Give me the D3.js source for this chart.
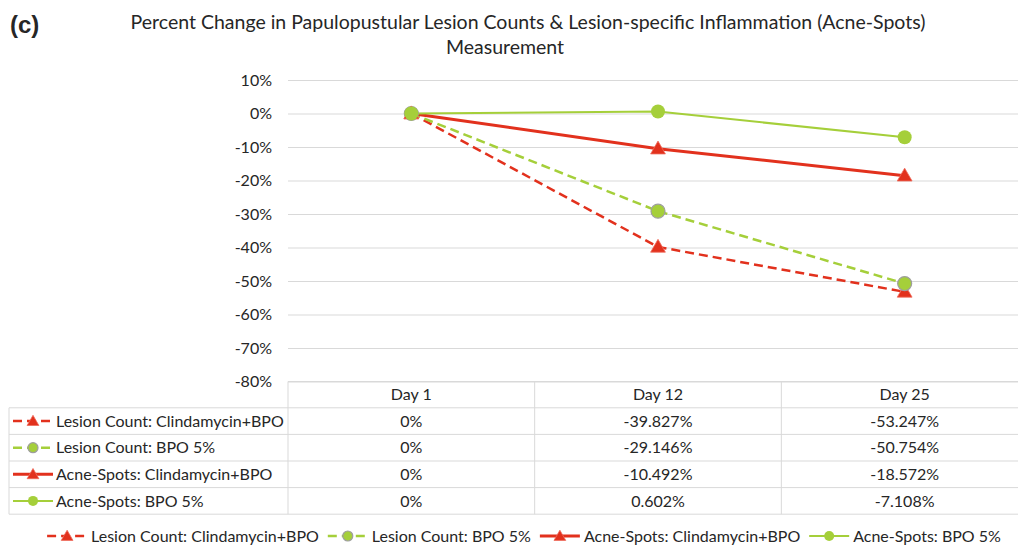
<html>
<head>
  <script src="https://d3js.org/d3.v7.min.js"></script>
  <style>
    body { margin: 0; background: #fff; }
    text { font-family: Lato, "Open Sans", sans-serif; fill: #262626; }
  </style>
</head>
<body>
<div id="chart"></div>
<script>
  // chart data
  var days = ["Day 1", "Day 12", "Day 25"];
  var seriesNames = ["Lesion Count: Clindamycin+BPO", "Lesion Count: BPO 5%",
                     "Acne-Spots: Clindamycin+BPO", "Acne-Spots: BPO 5%"];
  var lesionClinda = [0, -39.827, -53.247];
  var lesionBpo = [0, -29.146, -50.754];
  var spotsClinda = [0, -10.492, -18.572];
  var spotsBpo = [0, 0.602, -7.108];
  var yTicks = [10, 0, -10, -20, -30, -40, -50, -60, -70, -80];

  var red = '#e2311d', green = '#a5cf3a';
  var series = [
    {name: seriesNames[0], values: lesionClinda, color: red, dash: '9,5', width: 2.5, marker: 'tri'},
    {name: seriesNames[1], values: lesionBpo, color: green, dash: '9,5', width: 2.5, marker: 'dot', edge: '#9e9e9e'},
    {name: seriesNames[2], values: spotsClinda, color: red, dash: null, width: 3, marker: 'tri'},
    {name: seriesNames[3], values: spotsBpo, color: green, dash: null, width: 2, marker: 'dot'}
  ];

  var W = 1018, H = 547;
  var svg = d3.select('#chart').append('svg')
              .attr('width', W).attr('height', H);
  svg.append('rect').attr('width', W).attr('height', H).attr('fill', '#fff');

  var x = d3.scaleBand().domain(days).range([288, 1028]);
  var y = d3.scaleLinear().domain([-80, 10]).range([381.5, 80]);
  var fmtPct = function(v) { return String(v).replace('\u2212', '-') + '%'; };
  var fmtCell = function(v) { return v === 0 ? '0%' : v.toFixed(3) + '%'; };

  // gridlines
  svg.append('g')
     .attr('transform', 'translate(288,0)')
     .call(d3.axisLeft(y).tickValues(yTicks).tickSize(-740).tickFormat(''))
     .call(function(g) {
       g.select('.domain').remove();
       g.selectAll('line').attr('stroke', '#d9d9d9').attr('stroke-width', 1);
     });

  // y labels
  svg.append('g')
     .attr('transform', 'translate(272,0)')
     .call(d3.axisLeft(y).tickValues(yTicks).tickSize(0).tickPadding(0).tickFormat(fmtPct))
     .call(function(g) {
       g.select('.domain').remove();
       g.selectAll('text').style('font-size', '16px').style('font-family', 'Lato').attr('fill', '#404040');
     });

  // titles
  svg.append('text').text('(c)')
     .attr('x', 10).attr('y', 33)
     .style('font-family', '"Liberation Sans", Arial, sans-serif')
     .style('font-weight', 'bold').style('font-size', '24px').attr('fill', '#000');
  svg.append('text').text('Percent Change in Papulopustular Lesion Counts & Lesion-specific Inflammation (Acne-Spots)')
     .attr('x', 528).attr('y', 29).attr('text-anchor', 'middle')
     .style('font-size', '19.5px').attr('fill', '#000');
  svg.append('text').text('Measurement')
     .attr('x', 505).attr('y', 54).attr('text-anchor', 'middle')
     .style('font-size', '19.5px').attr('fill', '#000');

  // markers
  function drawMarker(g, s, cx, cy, small) {
    if (s.marker === 'tri') {
      g.append('path')
       .attr('d', d3.symbol().type(d3.symbolTriangle).size(small ? 60 : 95)())
       .attr('transform', 'translate(' + cx + ',' + (cy + 1) + ')')
       .attr('fill', s.color).attr('stroke', '#ef6a5a').attr('stroke-width', 0.8);
    } else {
      g.append('circle').attr('cx', cx).attr('cy', cy).attr('r', small ? 5 : 7)
       .attr('fill', s.color)
       .attr('stroke', s.edge || s.color).attr('stroke-width', s.edge ? 1.2 : 0);
    }
  }

  var line = d3.line()
               .x(function(d, i) { return x(days[i]) + x.bandwidth() / 2; })
               .y(function(d) { return y(d); });

  var plot = svg.append('g');
  series.forEach(function(s) {
    plot.append('path')
        .attr('d', line(s.values))
        .attr('fill', 'none')
        .attr('stroke', s.color)
        .attr('stroke-width', s.width)
        .attr('stroke-dasharray', s.dash);
  });
  series.forEach(function(s) {
    s.values.forEach(function(v, i) {
      drawMarker(plot, s, x(days[i]) + x.bandwidth() / 2, y(v));
    });
  });

  function drawKey(g, s, x0, cy) {
    g.append('line')
     .attr('x1', x0).attr('x2', x0 + 40).attr('y1', cy).attr('y2', cy)
     .attr('stroke', s.color).attr('stroke-width', s.width)
     .attr('stroke-dasharray', s.dash);
    drawMarker(g, s, x0 + 20, cy, true);
  }

  // data table
  var tTop = 381.5, headH = 26.3, rowH = 26.6, tLeft = 9, tRight = 1028;
  var tbl = svg.append('g');
  var gridc = '#d9d9d9';
  tbl.append('line').attr('x1', 288).attr('x2', tRight).attr('y1', tTop).attr('y2', tTop).attr('stroke', gridc);
  for (var r = 0; r <= series.length; r++) {
    var yy = tTop + headH + r * rowH;
    tbl.append('line').attr('x1', tLeft).attr('x2', tRight).attr('y1', yy).attr('y2', yy).attr('stroke', gridc);
  }
  var tBottom = tTop + headH + series.length * rowH;
  tbl.append('line').attr('x1', tLeft).attr('x2', tLeft).attr('y1', tTop + headH).attr('y2', tBottom).attr('stroke', gridc);
  days.forEach(function(d) {
    tbl.append('line').attr('x1', x(d)).attr('x2', x(d)).attr('y1', tTop).attr('y2', tBottom).attr('stroke', gridc);
    tbl.append('text').text(d)
       .attr('x', x(d) + x.bandwidth() / 2).attr('y', tTop + headH / 2)
       .attr('dy', '0.35em').attr('text-anchor', 'middle').style('font-size', '16px');
  });
  series.forEach(function(s, r) {
    var cy = tTop + headH + r * rowH + rowH / 2;
    drawKey(tbl, s, 13, cy);
    tbl.append('text').text(s.name)
       .attr('x', 56).attr('y', cy).attr('dy', '0.35em').style('font-size', '16px');
    s.values.forEach(function(v, i) {
      tbl.append('text').text(fmtCell(v))
         .attr('x', x(days[i]) + x.bandwidth() / 2).attr('y', cy)
         .attr('dy', '0.35em').attr('text-anchor', 'middle').style('font-size', '16px');
    });
  });

  // bottom legend
  var leg = svg.append('g');
  var legY = 536, pos = 0;
  series.forEach(function(s) {
    var gi = leg.append('g');
    drawKey(gi, s, 0, legY);
    var t = gi.append('text').text(s.name)
              .attr('x', 44).attr('y', legY).attr('dy', '0.35em').style('font-size', '16px');
    var w = 44 + t.node().getComputedTextLength();
    gi.attr('transform', 'translate(' + pos + ',0)');
    pos += w + 9;
  });
  leg.attr('transform', 'translate(' + (524 - (pos - 9) / 2) + ',0)');
</script>
</body>
</html>
